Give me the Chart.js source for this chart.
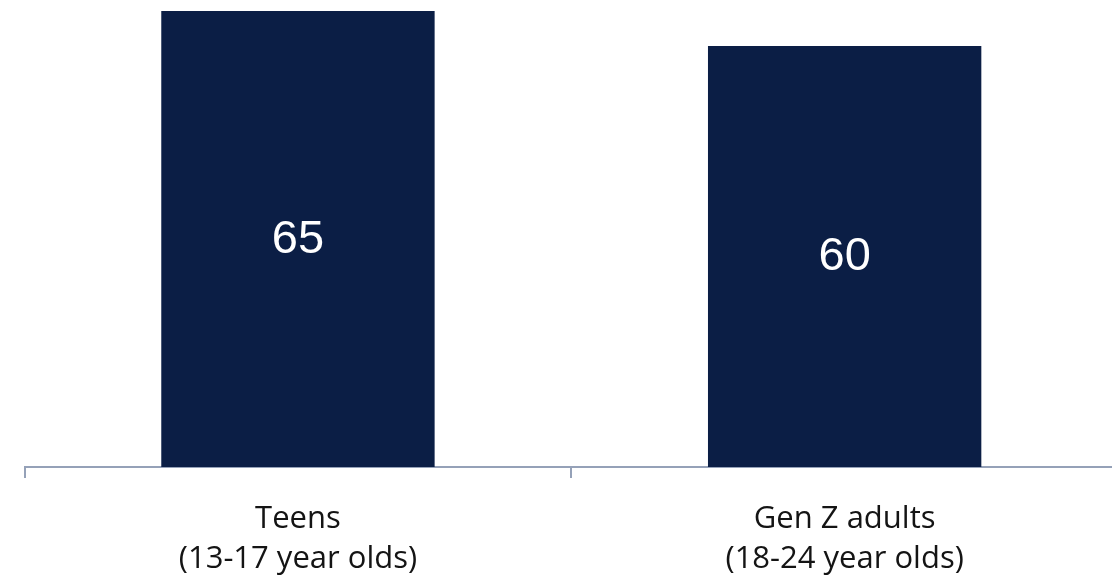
<!DOCTYPE html>
<html>
<head>
<meta charset="utf-8">
<script src="https://cdn.jsdelivr.net/npm/chart.js@4/dist/chart.umd.min.js"></script>
<style>
html,body{margin:0;padding:0;background:#fff;overflow:hidden;}
#wrap{position:relative;width:1118px;height:582px;}
</style>
</head>
<body>
<div id="wrap"><canvas id="c"></canvas></div>
<script>
const categories = [["Teens", "(13-17 year olds)"], ["Gen Z adults", "(18-24 year olds)"]];
const values = [65, 60];
const valueLabels = ["65", "60"];

const barColor = "#0b1e45";
const axisColor = "#95a1b8";

const centerLabels = {
  id: "centerLabels",
  afterDatasetsDraw(chart) {
    const ctx = chart.ctx;
    const meta = chart.getDatasetMeta(0);
    ctx.save();
    ctx.fillStyle = "#ffffff";
    ctx.font = "47px 'Liberation Sans', Arial, sans-serif";
    ctx.textAlign = "center";
    ctx.textBaseline = "middle";
    meta.data.forEach((bar, i) => {
      const y = (bar.y + bar.base) / 2;
      ctx.fillText(valueLabels[i], bar.x, y + 1);
    });
    ctx.restore();
  }
};

new Chart(document.getElementById("c"), {
  type: "bar",
  data: {
    labels: categories,
    datasets: [{
      data: values,
      backgroundColor: barColor,
      borderWidth: 0,
      barPercentage: 0.5,
      categoryPercentage: 1.0
    }]
  },
  options: {
    responsive: true,
    maintainAspectRatio: false,
    animation: false,
    layout: { padding: { left: 24.6, right: 0, top: 0, bottom: 0 } },
    plugins: { legend: { display: false }, tooltip: { enabled: false } },
    scales: {
      y: { display: false, min: 0, max: 66.57 },
      x: {
        offset: true,
        border: { display: true, color: axisColor, width: 2 },
        grid: { display: true, drawOnChartArea: false, drawTicks: true, tickLength: 11, color: axisColor, lineWidth: 2, offset: true },
        ticks: {
          color: "#141414",
          font: { family: "'Open Sans', Lato, sans-serif", size: 31, lineHeight: 1.29 },
          padding: 21,
          maxRotation: 0,
          autoSkip: false
        },
        afterFit(scale) { scale.height = 115; }
      }
    }
  },
  plugins: [centerLabels]
});
</script>
</body>
</html>
